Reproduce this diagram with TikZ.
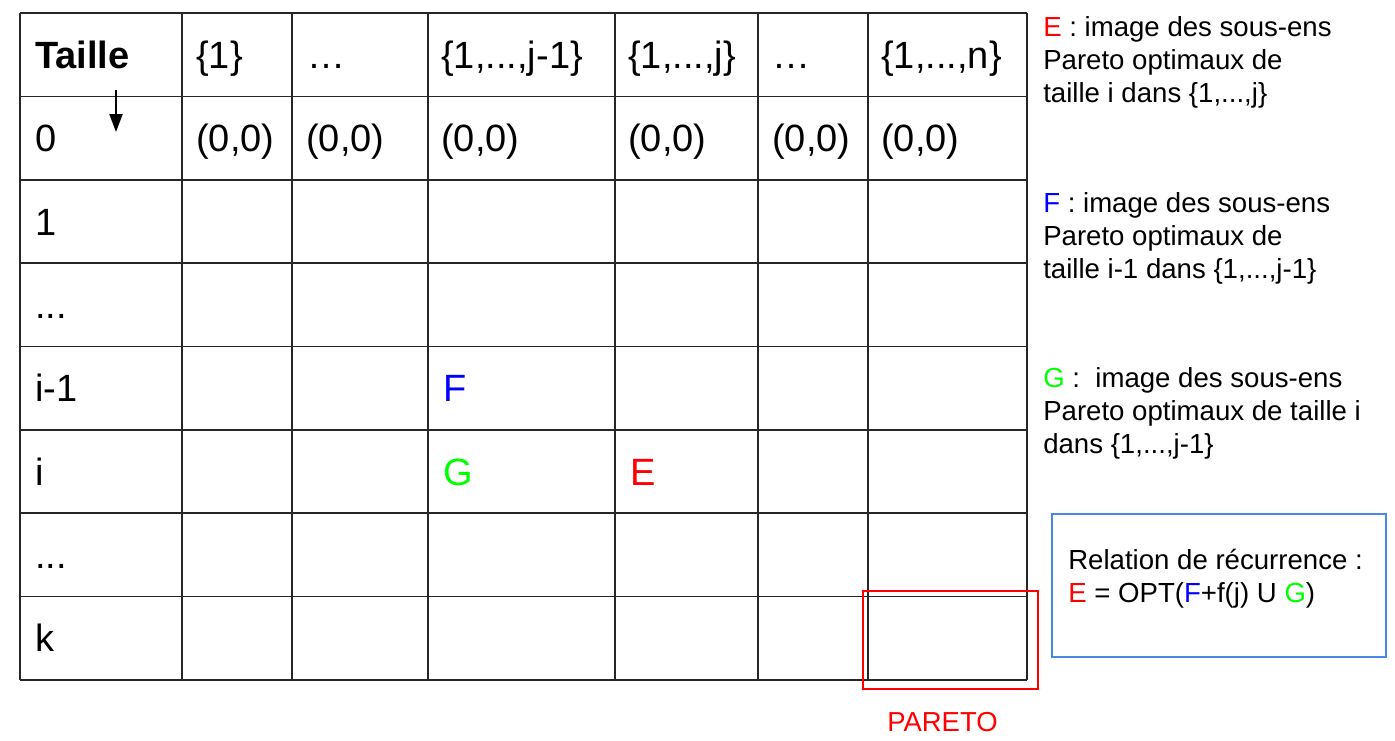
\documentclass[tikz,border=0pt]{standalone}
\usepackage{fontspec}
\setmainfont{Liberation Sans}
\usetikzlibrary{arrows.meta,positioning,calc}

\definecolor{setE}{RGB}{255,0,0}
\definecolor{setF}{RGB}{0,0,255}
\definecolor{setG}{RGB}{0,255,0}
\definecolor{boxblue}{RGB}{74,134,232}

\begin{document}
\begin{tikzpicture}[
  x=0.75pt, y=-0.75pt,
  grid/.style={draw=black!85, line width=1.2pt},
  cell/.style={anchor=base west, inner sep=0pt, font=\fontsize{28.5}{34}\selectfont},
  note/.style={anchor=base west, inner sep=0pt, align=left, font=\fontsize{20.7}{24.75}\selectfont},
  >={Triangle[length=13.5pt, width=9.75pt]}
]
  \useasboundingbox (0,0) rectangle (1395,740);

  % Grid
  \foreach \r in {0,...,8}
    \draw[grid] (20,13+83.375*\r) -- (1027,13+83.375*\r);
  \foreach \c in {20,182,292,428,615,758,868,1027}
    \draw[grid] (\c,13) -- (\c,680);

  % Header row
  \node[cell] (taille) at (35,68.3) {\bfseries Taille};
  \node[cell] (h1) at (196,68.3) {\{1\}};
  \node[cell] (h2) at (307,68.3) {…};
  \node[cell] (h3) at (441,68.3) {\{1,...,j-1\}};
  \node[cell] (h4) at (628,68.3) {\{1,...,j\}};
  \node[cell] (h5) at (772,68.3) {…};
  \node[cell] (h6) at (881,68.3) {\{1,...,n\}};

  % Row labels
  \node[cell] (r0) at (35,151.7) {0};
  \node[cell] (r1) at (35,235.1) {1};
  \node[cell] (r2) at (35,318.5) {...};
  \node[cell] (r3) at (35,401.8) {i-1};
  \node[cell] (r4) at (35,485.2) {i};
  \node[cell] (r5) at (35,568.6) {...};
  \node[cell] (r6) at (35,651.9) {k};

  % Initial values
  \foreach \x [count=\i] in {196,306,441,628,772,881}
    \node[cell] (z\i) at (\x,151.7) {(0,0)};

  % Sets in the table
  \node[cell, text=setF] (F) at (443,401.8) {F};
  \node[cell, text=setG] (G) at (443,485.2) {G};
  \node[cell, text=setE] (E) at (630,485.2) {E};

  % Arrow
  \coordinate (arrtop) at (116,90);
  \coordinate (arrbot) at (116,132);
  \draw[->, line width=1.5pt] (arrtop) -- (arrbot);

  % Notes (anchored on their last line)
  \node[note] (noteE) at (1043,102) {{\color{setE}E} : image des sous-ens\\Pareto optimaux de\\taille i dans \{1,...,j\}};
  \node[note] (noteF) at (1043,278) {{\color{setF}F} : image des sous-ens\\Pareto optimaux de\\taille i-1 dans \{1,...,j-1\}};
  \node[note] (noteG) at (1043,453) {{\color{setG}G} :\ \ image des sous-ens\\Pareto optimaux de taille i\\dans \{1,...,j-1\}};

  % Recurrence
  \draw[draw=boxblue, line width=1.8pt] (1052,514) rectangle (1386,657);
  \node[note] (rec) at (1068,602) {Relation de récurrence :\\{\color{setE}E} = OPT({\color{setF}F}+f(j) U {\color{setG}G})};

  % Pareto
  \draw[draw=setE, line width=2pt] (863,591) rectangle (1038,689);
  \node[note, text=setE, font=\fontsize{20.6}{24}\selectfont] (pareto) at (887,731) {PARETO};
\end{tikzpicture}
\end{document}
